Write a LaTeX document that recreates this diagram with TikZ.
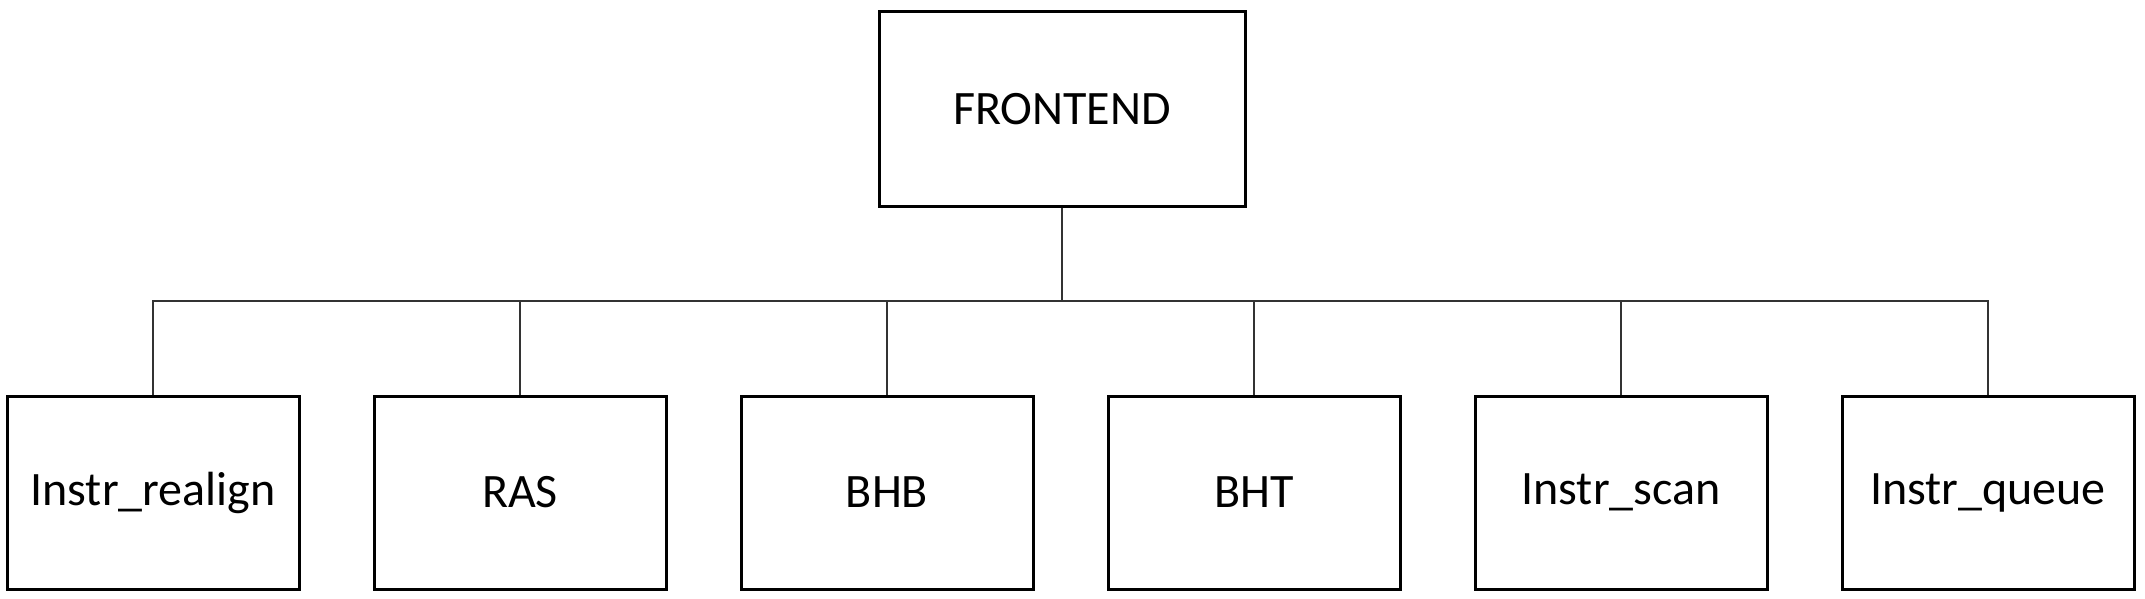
\documentclass[tikz,border=0pt]{standalone}
\usepackage{fontspec}
\setmainfont{Carlito}
\begin{document}
\begin{tikzpicture}[x=1pt,y=-1pt,
  box/.style={draw=black,line width=3pt,minimum width=292pt,minimum height=193pt,inner sep=0pt,font=\fontsize{48}{56}\selectfont},
  topbox/.style={box,minimum width=366pt,minimum height=194pt,font=\fontsize{48}{56}\selectfont},
  conn/.style={draw=black!80,line width=1.4pt}]
\useasboundingbox (0,0) rectangle (2145,599);
\node[topbox] (fe) at (1062,109) {FRONTEND};
\node[box] (a) at (153,492.5) {Instr\_realign};
\node[box] (b) at (520,492.5) {RAS};
\node[box] (c) at (887,492.5) {BHB};
\node[box] (d) at (1254,492.5) {BHT};
\node[box] (e) at (1621,492.5) {Instr\_scan};
\node[box] (f) at (1988,492.5) {Instr\_queue};
\coordinate (bus) at (1062,301);
\draw[conn] (fe.south) -- (bus);
\draw[conn] (a.north) |- (f.north |- bus) -- (f.north);
\foreach \n in {b,c,d,e} \draw[conn] (\n.north) -- (\n.north |- bus);
\end{tikzpicture}
\end{document}
